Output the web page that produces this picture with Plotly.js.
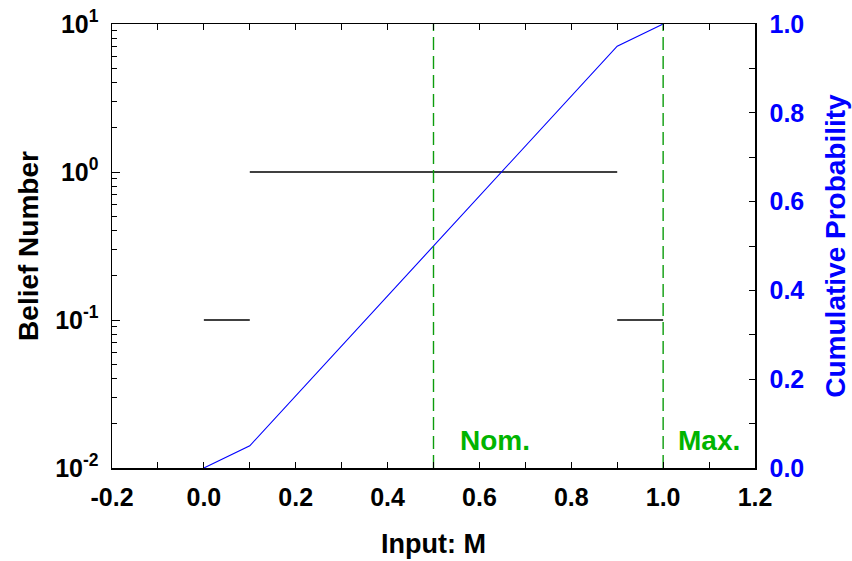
<!DOCTYPE html>
<html><head><meta charset="utf-8">
<script src="https://cdn.plot.ly/plotly-3.0.1.min.js"></script>
<style>body{margin:0;background:#fff}#c{width:852px;height:561px}</style>
</head><body><div id="c"></div>
<script>
// Belief number (left, log axis) as step segments
const beliefX = [0.0, 0.1, null, 0.1, 0.9, null, 0.9, 1.0];
const beliefY = [0.1, 0.1, null, 1, 1, null, 0.1, 0.1];
// Cumulative probability (right axis)
const cumX = [0.0, 0.1, 0.9, 1.0];
const cumY = [0.0, 0.05, 0.95, 1.0];
// Reference lines
const refX = [0.5, 1.0];
const refLabels = ["Nom.", "Max."];
const refLabelX = [0.553, 1.028];
const yTickVals = [0.01, 0.1, 1, 10];
const yTickText = ["10<sup>-2</sup>", "10<sup>-1</sup>", "10<sup>0</sup>", "10<sup>1</sup>"];
const yMinor = [];
[0.01, 0.1, 1].forEach(d => { for (let k = 2; k <= 9; k++) yMinor.push(d * k); });

const font = "Liberation Sans, Arial, sans-serif";
const traces = [
  {x: beliefX, y: beliefY, type: 'scatter', mode: 'lines', line: {color: '#000', width: 1.4}, connectgaps: false, hoverinfo: 'skip'},
  {x: cumX, y: cumY, type: 'scatter', mode: 'lines', yaxis: 'y2', line: {color: '#0000ff', width: 1.1}, hoverinfo: 'skip'}
];
refX.forEach(v => traces.push({x: [v, v], y: [0, 1], yaxis: 'y2', type: 'scatter', mode: 'lines',
  line: {color: '#0c9c0c', width: 1.4, dash: '13px,6px'}, hoverinfo: 'skip'}));

const layout = {
  width: 852, height: 561, showlegend: false,
  paper_bgcolor: '#fff', plot_bgcolor: '#fff',
  margin: {l: 112, r: 97, t: 24, b: 93},
  font: {family: font, color: '#000'},
  xaxis: {range: [-0.2, 1.2], tickvals: [-0.2, 0, 0.2, 0.4, 0.6, 0.8, 1.0, 1.2],
    ticktext: ['-0.2', '0.0', '0.2', '0.4', '0.6', '0.8', '1.0', '1.2'],
    ticks: 'inside', ticklen: 6, tickwidth: 1, tickcolor: '#000', ticklabelstandoff: 6,
    minor: {tickvals: [-0.1, 0.1, 0.3, 0.5, 0.7, 0.9, 1.1], ticks: 'inside', ticklen: 6, tickcolor: '#000'},
    showline: true, linecolor: '#000', linewidth: 1.5, mirror: 'ticks', showgrid: false, zeroline: false,
    tickfont: {size: 25, family: font, weight: 'bold'},
    title: {text: '<b>Input: M</b>', font: {size: 27, family: font}, standoff: 24}},
  yaxis: {type: 'log', range: [-2, 1], tickvals: yTickVals, ticktext: yTickText,
    ticks: 'inside', ticklen: 8, tickwidth: 1, tickcolor: '#000', ticklabelstandoff: 7,
    minor: {tickvals: yMinor, ticks: 'inside', ticklen: 5, tickcolor: '#000'},
    showline: true, linecolor: '#000', linewidth: 1.5, showgrid: false, zeroline: false,
    tickfont: {size: 25, family: font, weight: 'bold'},
    title: {text: '<b>Belief Number</b>', font: {size: 28, family: font}, standoff: 8}},
  yaxis2: {overlaying: 'y', side: 'right', range: [0, 1],
    tickvals: [0, 0.2, 0.4, 0.6, 0.8, 1.0], ticktext: ['0.0', '0.2', '0.4', '0.6', '0.8', '1.0'],
    ticks: 'inside', ticklen: 6, tickwidth: 1, tickcolor: '#000', ticklabelstandoff: 8,
    minor: {tickvals: [0.1, 0.3, 0.5, 0.7, 0.9], ticks: 'inside', ticklen: 6, tickcolor: '#000'},
    showline: true, linecolor: '#000', linewidth: 1.5, showgrid: false, zeroline: false,
    tickfont: {size: 25, family: font, color: '#0000ff', weight: 'bold'},
    title: {text: '<b>Cumulative Probability</b>', font: {size: 28, family: font, color: '#0000ff'}, standoff: 22}},
  annotations: refLabels.map((t, i) => ({x: refLabelX[i], y: 0.061, xref: 'x', yref: 'paper',
    text: '<b>' + t + '</b>', showarrow: false, xanchor: 'left', yanchor: 'middle',
    font: {size: 28, family: font, color: '#00b400'}}))
};
Plotly.newPlot('c', traces, layout, {staticPlot: true});
</script></body></html>
